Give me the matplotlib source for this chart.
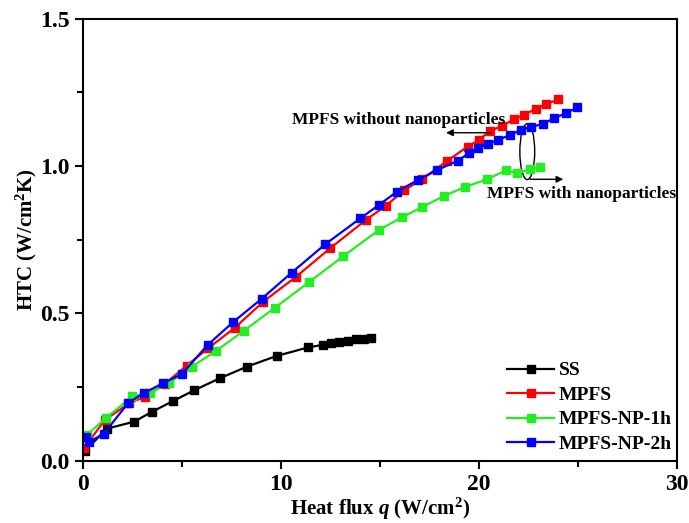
import matplotlib
matplotlib.use('Agg')
import matplotlib.pyplot as plt
from matplotlib.patches import Ellipse
from matplotlib.ticker import MultipleLocator

plt.rcParams['font.family'] = 'Liberation Serif'
plt.rcParams['font.weight'] = 'bold'
plt.rcParams['mathtext.fontset'] = 'custom'
plt.rcParams['mathtext.rm'] = 'Liberation Serif:bold'
plt.rcParams['mathtext.bf'] = 'Liberation Serif:bold'
plt.rcParams['mathtext.it'] = 'Liberation Serif:italic:bold'

# heat flux q (W/cm2) and HTC (W/cm2K)
ss_q = [0.09, 1.2, 2.59, 3.47, 4.52, 5.63, 6.9, 8.29, 9.78, 11.37, 12.14,
        12.55, 12.95, 13.36, 13.8, 14.2, 14.57]
ss_h = [0.032, 0.108, 0.132, 0.165, 0.201, 0.239, 0.279, 0.319, 0.355, 0.384,
        0.393, 0.4, 0.403, 0.407, 0.412, 0.414, 0.415]

mpfs_q = [0.05, 1.09, 2.32, 3.15, 4.13, 5.23, 6.32, 7.67, 9.1, 10.76, 12.47,
          14.29, 15.3, 16.23, 17.12, 18.39, 19.43, 19.99, 20.58, 21.17, 21.76,
          22.27, 22.86, 23.4, 23.99]
mpfs_h = [0.042, 0.137, 0.194, 0.217, 0.26, 0.322, 0.381, 0.451, 0.539, 0.624,
          0.72, 0.817, 0.865, 0.918, 0.955, 1.017, 1.066, 1.088, 1.12, 1.136,
          1.159, 1.173, 1.194, 1.21, 1.226]

np1_q = [0.19, 1.14, 2.49, 3.37, 4.34, 5.48, 6.74, 8.13, 9.7, 11.42, 13.15,
         14.95, 16.11, 17.12, 18.22, 19.27, 20.41, 21.39, 21.93, 22.56, 23.08]
np1_h = [0.087, 0.143, 0.218, 0.23, 0.262, 0.318, 0.373, 0.441, 0.519, 0.606,
         0.694, 0.783, 0.826, 0.86, 0.898, 0.928, 0.955, 0.986, 0.975, 0.989, 0.998]

np2_q = [0.14, 0.31, 1.04, 2.29, 3.1, 4.03, 5.0, 6.29, 7.58, 9.02, 10.54,
         12.23, 14.0, 14.95, 15.86, 16.9, 17.88, 18.93, 19.48, 19.94, 20.45,
         20.95, 21.56, 22.1, 22.64, 23.23, 23.79, 24.38, 24.97]
np2_h = [0.081, 0.064, 0.09, 0.196, 0.23, 0.262, 0.294, 0.392, 0.47, 0.549,
         0.638, 0.734, 0.822, 0.868, 0.913, 0.952, 0.986, 1.018, 1.043, 1.06,
         1.075, 1.088, 1.105, 1.122, 1.133, 1.143, 1.162, 1.179, 1.199]

fig = plt.figure(figsize=(6.89, 5.23), dpi=100)
ax = fig.add_axes([0.1205, 0.1195, 0.862, 0.8446])

ax.plot(ss_q, ss_h, '-s', color='black', lw=1.6, ms=5.5, label='SS')
ax.plot(mpfs_q, mpfs_h, '-s', color='#ff0000', lw=1.6, ms=6.2, label='MPFS')
ax.plot(np1_q, np1_h, '-s', color='#22ee22', lw=1.6, ms=6.0, label='MPFS-NP-1h')
ax.plot(np2_q, np2_h, '-s', color='#0000ff', lw=1.6, ms=6.4, label='MPFS-NP-2h')

ax.set_xlim(0, 30)
ax.set_ylim(0, 1.5)
ax.xaxis.set_major_locator(MultipleLocator(10))
ax.xaxis.set_minor_locator(MultipleLocator(5))
ax.yaxis.set_major_locator(MultipleLocator(0.5))
ax.yaxis.set_minor_locator(MultipleLocator(0.25))
ax.tick_params(which='both', direction='out', width=1.5, labelsize=17,
               top=False, right=False)
ax.tick_params(which='major', length=6)
ax.tick_params(which='minor', length=4)
for s in ax.spines.values():
    s.set_linewidth(1.5)

ax.set_xlabel(r'Heat flux $q$ (W/cm$^2$)', fontsize=15, fontweight='bold', labelpad=1)
ax.set_ylabel(r'HTC (W/cm$^2$K)', fontsize=15, fontweight='bold', labelpad=1)

# annotations
ax.add_patch(Ellipse((22.44, 1.049), 0.75, 0.19, fill=False, ec='black', lw=1))
ax.annotate('', xy=(18.2, 1.113), xytext=(20.75, 1.113),
            arrowprops=dict(arrowstyle='-|>', color='black', lw=1, mutation_scale=10))
ax.annotate('', xy=(24.4, 0.955), xytext=(22.44, 0.955),
            arrowprops=dict(arrowstyle='-|>', color='black', lw=1, mutation_scale=10))
ax.text(10.56, 1.156, 'MPFS without nanoparticles', fontsize=12.5,
        fontweight='bold', va='center', ha='left')
ax.text(20.4, 0.905, 'MPFS with nanoparticles', fontsize=12.5,
        fontweight='bold', va='center', ha='left')

ax.legend(loc='lower right', bbox_to_anchor=(1.005, 0.0), frameon=False,
          prop={'size': 14, 'weight': 'bold'}, handlelength=2.4,
          handletextpad=0.25, labelspacing=0.35, borderaxespad=0.0)

fig.savefig('out.png', dpi=100)
